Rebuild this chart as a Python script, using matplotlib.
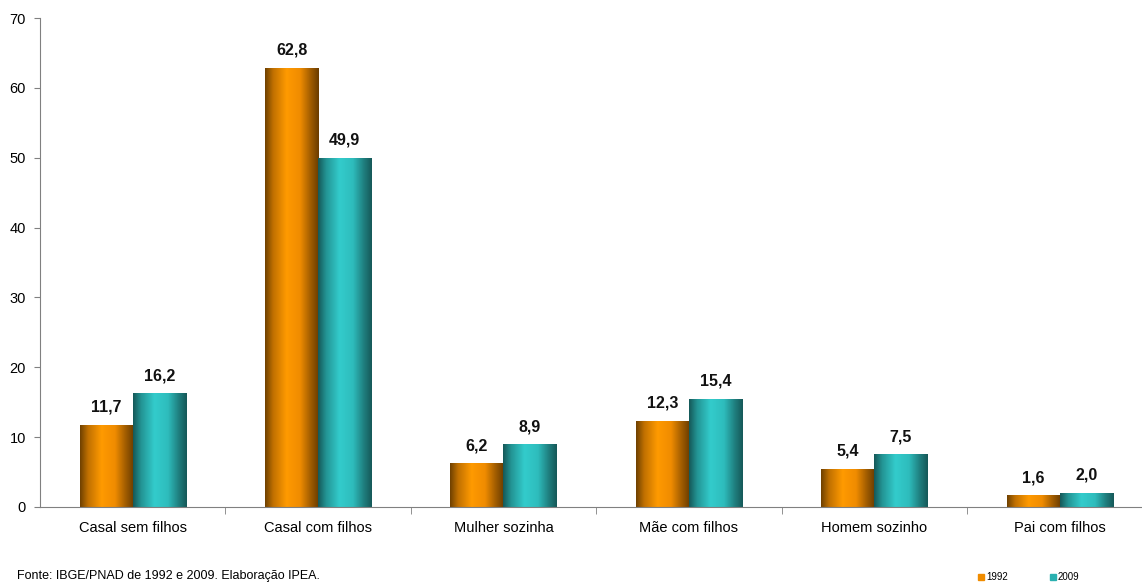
import matplotlib.pyplot as plt
import numpy as np
from matplotlib.colors import LinearSegmentedColormap

categories = ["Casal sem filhos", "Casal com filhos", "Mulher sozinha",
              "Mãe com filhos", "Homem sozinho", "Pai com filhos"]
v1992 = [11.7, 62.8, 6.2, 12.3, 5.4, 1.6]
v2009 = [16.2, 49.9, 8.9, 15.4, 7.5, 2.0]
labels_1992 = ["11,7", "62,8", "6,2", "12,3", "5,4", "1,6"]
labels_2009 = ["16,2", "49,9", "8,9", "15,4", "7,5", "2,0"]

plt.rcParams['font.family'] = ['Liberation Sans', 'DejaVu Sans']

W, H = 1142, 583
fig = plt.figure(figsize=(W / 100, H / 100), dpi=100)
ax = fig.add_axes([40 / W, (H - 507) / H, (W - 40) / W, (507 - 18) / H])

orange = LinearSegmentedColormap.from_list(
    "org", [(0, "#6e4000"), (0.15, "#c07000"), (0.4, "#ff9a00"),
            (0.65, "#f08c00"), (0.85, "#a05c00"), (1, "#6a3c00")])
teal = LinearSegmentedColormap.from_list(
    "tl", [(0, "#155858"), (0.15, "#239494"), (0.4, "#33cccc"),
           (0.65, "#2ebcbc"), (0.85, "#1f7f7f"), (1, "#165858")])

grad = np.linspace(0, 1, 256).reshape(1, -1)
bw = 0.286
x = np.arange(len(categories))


def draw_bar(xc, h, cmap):
    ax.imshow(grad, cmap=cmap, aspect='auto', extent=(xc - bw / 2, xc + bw / 2, 0, h),
              zorder=2, interpolation='bilinear')


for i in x:
    draw_bar(i - bw / 2, v1992[i], orange)
    draw_bar(i + bw / 2, v2009[i], teal)
    ax.text(i - bw / 2, v1992[i] + 1.5, labels_1992[i], ha='center', va='bottom',
            fontsize=11.5, fontweight='bold', color='#111111')
    ax.text(i + bw / 2, v2009[i] + 1.5, labels_2009[i], ha='center', va='bottom',
            fontsize=11.5, fontweight='bold', color='#111111')

group_w = 185.4
ax.set_xlim(-0.5, (W - 40) / group_w - 0.5)
ax.set_ylim(0, 70)
ax.set_yticks(range(0, 71, 10))
ax.set_xticks(x)
ax.set_xticklabels(categories, fontsize=10.5)
ax.set_xticks(np.arange(0.5, 5.5, 1), minor=True)
ax.tick_params(axis='x', which='major', length=0, pad=10)
ax.tick_params(axis='x', which='minor', length=5, color='#808080')
ax.tick_params(axis='y', length=4, color='#808080', labelsize=10.5, pad=6)
for s in ['top', 'right']:
    ax.spines[s].set_visible(False)
for s in ['left', 'bottom']:
    ax.spines[s].set_color('#808080')

fig.text(17 / W, 1 - 576 / H, "Fonte: IBGE/PNAD de 1992 e 2009. Elaboração IPEA.",
         fontsize=9, va='center', ha='left')

# legend
for lx, lab, c in [(978, "1992", "#f08c00"), (1050, "2009", "#2ab0b0")]:
    fig.patches.append(plt.Rectangle((lx / W, 1 - 580 / H), 6 / W, 6 / H,
                                     transform=fig.transFigure, color=c, figure=fig))
    fig.text((lx + 8) / W, 1 - 577 / H, lab, fontsize=7, va='center', ha='left')

fig.savefig("out.png", dpi=100)
